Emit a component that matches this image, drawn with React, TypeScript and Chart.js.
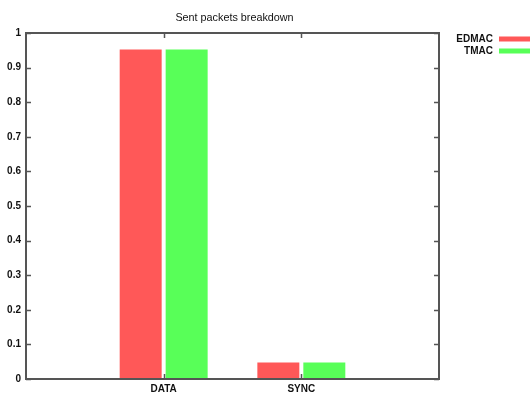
import React, { useEffect, useRef } from "react";
import { Chart, registerables } from "chart.js";

Chart.register(...registerables);

const chartTitle = "Sent packets breakdown";
const categories = ["DATA", "SYNC"];
const seriesNames = ["EDMAC", "TMAC"];
const edmacValues = [0.952, 0.048];
const tmacValues = [0.952, 0.048];
const seriesColors = ["#ff5858", "#58ff58"];
const yTickValues = [0, 0.1, 0.2, 0.3, 0.4, 0.5, 0.6, 0.7, 0.8, 0.9, 1];

const FONT = "'Liberation Sans', Arial, Helvetica, sans-serif";

export default function App() {
  const ref = useRef<HTMLCanvasElement | null>(null);

  useEffect(() => {
    document.body.style.margin = "0";
    const canvas = ref.current;
    if (!canvas) return;

    const labels = ["", ...categories, ""];
    const pad = (arr: number[]) => [null, ...arr, null];

    const decor = {
      id: "gnuplotDecor",
      afterDraw(chart: any) {
        const ctx = chart.ctx as CanvasRenderingContext2D;
        const { left, right, top, bottom } = chart.chartArea;
        const xs = chart.scales.x;
        const ys = chart.scales.y;
        ctx.save();
        ctx.strokeStyle = "#555";
        ctx.lineWidth = 1.5;
        // ticks
        ctx.beginPath();
        yTickValues.forEach((v) => {
          const py = Math.round(ys.getPixelForValue(v)) + 0.5;
          ctx.moveTo(left, py);
          ctx.lineTo(left + 5, py);
          ctx.moveTo(right, py);
          ctx.lineTo(right - 5, py);
        });
        categories.forEach((_, i) => {
          const px = Math.round(xs.getPixelForValue(i + 1)) + 0.5;
          ctx.moveTo(px, top);
          ctx.lineTo(px, top + 5);
          ctx.moveTo(px, bottom);
          ctx.lineTo(px, bottom - 5);
        });
        ctx.stroke();
        // frame
        ctx.lineWidth = 2;
        ctx.strokeRect(left, top, right - left, bottom - top);
        // title
        ctx.fillStyle = "#111";
        ctx.font = `10.8px ${FONT}`;
        ctx.textAlign = "center";
        ctx.textBaseline = "middle";
        ctx.fillText(chartTitle, (left + right) / 2 + 2, 18);
        // legend
        ctx.font = `bold 10px ${FONT}`;
        ctx.textAlign = "right";
        seriesNames.forEach((name, i) => {
          const y = 39 + i * 12;
          ctx.fillStyle = "#111";
          ctx.fillText(name, 493, y);
          ctx.fillStyle = seriesColors[i];
          ctx.fillRect(499, y - 2.5, 31, 5);
        });
        ctx.restore();
      },
    };

    const chart = new Chart(canvas, {
      type: "bar",
      data: {
        labels,
        datasets: [
          {
            label: seriesNames[0],
            data: pad(edmacValues) as any,
            backgroundColor: seriesColors[0],
            borderWidth: 0,
            categoryPercentage: 0.668,
            barPercentage: 0.913,
          },
          {
            label: seriesNames[1],
            data: pad(tmacValues) as any,
            backgroundColor: seriesColors[1],
            borderWidth: 0,
            categoryPercentage: 0.668,
            barPercentage: 0.913,
          },
        ],
      },
      options: {
        animation: false,
        responsive: false,
        maintainAspectRatio: false,
        layout: { padding: { top: 33, right: 92, left: 0, bottom: 0 } },
        plugins: {
          legend: { display: false },
          title: { display: false },
          tooltip: { enabled: false },
        },
        scales: {
          x: {
            type: "category",
            offset: false,
            grid: { display: false, drawTicks: false },
            border: { display: false },
            ticks: {
              padding: 4,
              autoSkip: false,
              maxRotation: 0,
              color: "#111",
              font: { family: FONT, size: 10, weight: "bold" },
            },
            afterFit: (s: any) => {
              s.height = 15;
            },
          },
          y: {
            min: 0,
            max: 1,
            grid: { display: false, drawTicks: false },
            border: { display: false },
            ticks: {
              stepSize: 0.1,
              padding: 5,
              color: "#111",
              font: { family: FONT, size: 10, weight: "bold" },
              callback: (v: any) => String(Math.round(Number(v) * 10) / 10),
            },
            afterFit: (s: any) => {
              s.width = 26;
            },
          },
        },
      },
      plugins: [decor],
    });

    return () => chart.destroy();
  }, []);

  return (
    <div style={{ width: 531, height: 394, background: "#fff" }}>
      <canvas ref={ref} width={531} height={394} style={{ display: "block" }} />
    </div>
  );
}
